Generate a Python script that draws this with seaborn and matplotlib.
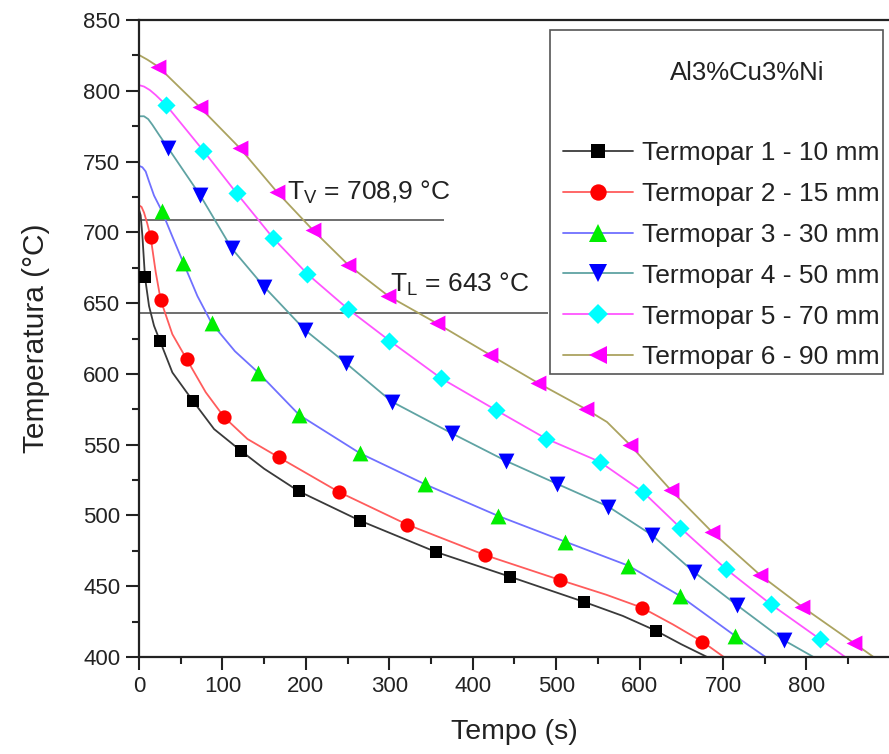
import matplotlib
matplotlib.use("Agg")
import matplotlib.pyplot as plt
from matplotlib.lines import Line2D
from matplotlib.patches import Rectangle
from matplotlib.ticker import MultipleLocator
import seaborn as sns

# ---- cooling curves, time (s) and temperature (°C) ----
# Termopar 1 - 10 mm
t1_line = [0, 2, 4, 7.2, 12, 18, 25.2, 40, 64.4, 90, 121.9, 150, 191.5, 265, 356, 444.8, 533.6, 580, 619.5, 650, 681]
T1_line = [716, 712, 698, 668.2, 648, 634, 623.2, 601, 581.1, 561, 545.8, 533, 517.1, 496.3, 474.2, 456.7, 438.9, 429, 418.6, 409, 400]
t1_mark = [7.2, 25.2, 64.4, 121.9, 191.5, 265, 356, 444.8, 533.6, 619.5]
T1_mark = [668.2, 623.2, 581.1, 545.8, 517.1, 496.3, 474.2, 456.7, 438.9, 418.6]

# Termopar 2 - 15 mm
t2_line = [0, 3, 6, 10, 14, 20, 26, 40, 57.2, 80, 102.3, 130, 167.5, 240.2, 321.7, 415.2, 504.8, 560, 602.7, 640, 675.4, 701]
T2_line = [719, 718, 714, 706, 696.5, 672, 652.2, 628, 610.3, 587, 569.3, 554, 541.1, 516.4, 493.5, 471.9, 454.4, 444, 434.9, 423, 410.8, 400]
t2_mark = [14, 26, 57.2, 102.3, 167.5, 240.2, 321.7, 415.2, 504.8, 602.7, 675.4]
T2_mark = [696.5, 652.2, 610.3, 569.3, 541.1, 516.4, 493.5, 471.9, 454.4, 434.9, 410.8]

# Termopar 3 - 30 mm
t3_line = [0, 4, 8, 12, 18, 27.2, 40, 53.1, 70, 87.2, 115, 143, 192.2, 265, 342.9, 430.8, 510.8, 586.7, 648.7, 714.6, 751]
T3_line = [747, 746, 743, 736, 726, 715.3, 697, 678.6, 655, 635.7, 616, 600.9, 570.9, 543.9, 522.0, 499.6, 481.5, 464.5, 443.1, 414.9, 400]
t3_mark = [27.2, 53.1, 87.2, 143, 192.2, 265, 342.9, 430.8, 510.8, 586.7, 648.7, 714.6]
T3_mark = [715.3, 678.6, 635.7, 600.9, 570.9, 543.9, 522.0, 499.6, 481.5, 464.5, 443.1, 414.9]

# Termopar 4 - 50 mm
t4_line = [0, 6, 11, 16, 25, 35.1, 73.1, 111.1, 149.9, 199, 248.2, 303, 375, 440, 501.6, 562.7, 614.7, 664.7, 716.6, 772.6, 808.5]
T4_line = [782, 782, 780, 776, 768, 759.4, 726.4, 688.7, 661.6, 631, 607.5, 580.4, 558, 538.5, 522.2, 506.2, 486.2, 460.3, 436.7, 412.0, 400]
t4_mark = [35.1, 73.1, 111.1, 149.9, 199, 248.2, 303, 375, 440, 501.6, 562.7, 614.7, 664.7, 716.6, 772.6]
T4_mark = [759.4, 726.4, 688.7, 661.6, 631, 607.5, 580.4, 558, 538.5, 522.2, 506.2, 486.2, 460.3, 436.7, 412.0]

# Termopar 5 - 70 mm
t5_line = [0, 6, 13, 20, 32.4, 77.1, 117.1, 161, 201.8, 251, 300.2, 362.1, 427.7, 487.8, 552, 603.8, 648.7, 703.5, 757.4, 816.5, 846.5]
T5_line = [804, 803, 800.5, 797, 790, 757.7, 727.6, 695.8, 670.6, 645.6, 623.5, 596.9, 574.5, 554.3, 538, 516.8, 491.4, 462.2, 437.2, 412.5, 400]
t5_mark = [32.4, 77.1, 117.1, 161, 201.8, 251, 300.2, 362.1, 427.7, 487.8, 552, 603.8, 648.7, 703.5, 757.4, 816.5]
T5_mark = [790, 757.7, 727.6, 695.8, 670.6, 645.6, 623.5, 596.9, 574.5, 554.3, 538, 516.8, 491.4, 462.2, 437.2, 412.5]

# Termopar 6 - 90 mm
t6_line = [0, 10, 23.1, 73.1, 121.1, 165.1, 208.3, 251, 299, 357, 420.9, 478.8, 536, 561, 588.7, 637.5, 686.6, 744.6, 794.6, 857.3, 880.5]
T6_line = [825.3, 822, 817, 788.3, 759.4, 728.7, 701.7, 676.9, 655, 635.7, 613.4, 593.4, 575, 566, 549.8, 517.9, 488.5, 457.9, 435.6, 409.7, 400]
t6_mark = [23.1, 73.1, 121.1, 165.1, 208.3, 251, 299, 357, 420.9, 478.8, 536, 588.7, 637.5, 686.6, 744.6, 794.6, 857.3]
T6_mark = [817, 788.3, 759.4, 728.7, 701.7, 676.9, 655, 635.7, 613.4, 593.4, 575, 549.8, 517.9, 488.5, 457.9, 435.6, 409.7]

labels = ["Termopar 1 - 10 mm", "Termopar 2 - 15 mm", "Termopar 3 - 30 mm",
          "Termopar 4 - 50 mm", "Termopar 5 - 70 mm", "Termopar 6 - 90 mm"]
alloy = "Al3%Cu3%Ni"

# reference temperatures: T_V and T_L, with the time where each guide line ends
ref_T = [708.9, 643.0]
ref_end = [366, 490]
ref_text = ["T$_V$ = 708,9 °C", "T$_L$ = 643 °C"]

# ---- styling ----
sns.set_theme(style="ticks")
plt.rcParams["font.family"] = ["Liberation Sans", "DejaVu Sans"]
plt.rcParams["mathtext.default"] = "regular"

line_colors = ["#3a3a3a", "#ff5c5c", "#7070ff", "#5fa3a3", "#ff55ff", "#aba360"]
mark_colors = ["#000000", "#ff0000", "#00ee00", "#0000ff", "#00ffff", "#ff00ff"]
markers = ["s", "o", "^", "v", "D", "<"]
mark_sizes = [85, 105, 130, 130, 85, 130]

series = [
    (t1_line, T1_line, t1_mark, T1_mark),
    (t2_line, T2_line, t2_mark, T2_mark),
    (t3_line, T3_line, t3_mark, T3_mark),
    (t4_line, T4_line, t4_mark, T4_mark),
    (t5_line, T5_line, t5_mark, T5_mark),
    (t6_line, T6_line, t6_mark, T6_mark),
]

W, H = 889, 754
fig = plt.figure(figsize=(W / 100, H / 100), dpi=100)
ax = fig.add_axes([139 / W, 1 - 657 / H, 750 / W, 637 / H])

for i, (tl, Tl, tm, Tm) in enumerate(series):
    sns.lineplot(x=tl, y=Tl, ax=ax, color=line_colors[i], lw=1.3,
                 estimator=None, sort=False, legend=False, zorder=2)
    sns.scatterplot(x=tm, y=Tm, ax=ax, marker=markers[i], color=mark_colors[i],
                    s=mark_sizes[i], linewidth=0, legend=False, zorder=3)

# guide lines for the characteristic temperatures
ax.hlines(ref_T, xmin=0, xmax=ref_end, colors="#555555", lw=1.2, zorder=1)
ax.text(177, 723, ref_text[0], fontsize=19, color="#222222", ha="left", va="baseline")
ax.text(301, 658, ref_text[1], fontsize=19, color="#222222", ha="left", va="baseline")

ax.set_xlim(0, 899)
ax.set_ylim(400, 850)
ax.xaxis.set_major_locator(MultipleLocator(100))
ax.xaxis.set_minor_locator(MultipleLocator(50))
ax.yaxis.set_major_locator(MultipleLocator(50))
ax.yaxis.set_minor_locator(MultipleLocator(25))
ax.tick_params(which="major", direction="out", length=9.5, width=1.5,
               labelsize=16, pad=4, colors="#222222")
ax.tick_params(which="minor", direction="out", length=5, width=1.5, colors="#222222")
for side in ["left", "bottom", "top"]:
    ax.spines[side].set_linewidth(1.6)
    ax.spines[side].set_color("#222222")
ax.spines["right"].set_visible(False)

ax.set_xlabel("Tempo (s)", fontsize=20.5, labelpad=16, color="#222222")
ax.set_ylabel("Temperatura (°C)", fontsize=21.5, labelpad=24, color="#222222")

# legend box with the alloy name on top
frame = Rectangle((550 / W, 1 - 374 / H), 333 / W, 344 / H, transform=fig.transFigure,
                  facecolor="white", edgecolor="#555555", lw=1.2, zorder=5, clip_on=False)
ax.add_patch(frame)
fig.text(747 / W, 1 - 73 / H, alloy, ha="center", va="center", fontsize=18.5,
         color="#222222", zorder=7)

handles = [Line2D([], [], color=line_colors[i], lw=1.3, marker=markers[i],
                  markersize=(mark_sizes[i] ** 0.5) * 1.15, markerfacecolor=mark_colors[i],
                  markeredgewidth=0)
           for i in range(6)]
leg = ax.legend(handles, labels, loc="upper left",
                bbox_to_anchor=(563 / W, 1 - 141 / H), bbox_transform=fig.transFigure,
                frameon=False, fontsize=19, handlelength=2.65, handletextpad=0.33,
                labelspacing=0.64, borderaxespad=0, borderpad=0)
leg.set_zorder(6)
for txt in leg.get_texts():
    txt.set_color("#222222")

fig.savefig("out.png", dpi=100)
